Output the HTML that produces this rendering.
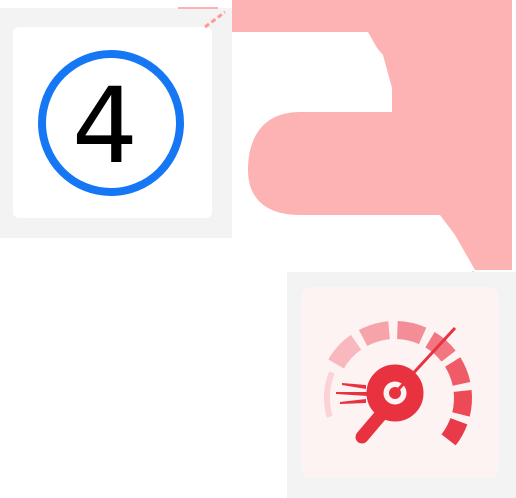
<!DOCTYPE html>
<html><head><meta charset="utf-8"><style>
html,body{margin:0;padding:0;background:#fff;width:516px;height:498px;overflow:hidden}
svg{display:block}
</style></head><body>
<svg id="s" width="516" height="498" viewBox="0 0 516 498">
  <path fill="#fdb3b3"
    d="M232,0 L512,0 L512,270 L475,270 L455,235 L440,215 L300,215 C262,215 248,195 248,170 C248,135 265,112 300,112 L392,112 L392,88 L383,55 L377,48 L368,32 L232,32 Z"/>
  <g>
    <rect x="0" y="8" width="232" height="230" fill="#f3f3f3"/>
    <rect x="13" y="27" width="199" height="191" rx="6" fill="#fff"/>
    <circle cx="111" cy="123" r="69" fill="none" stroke="#1677f5" stroke-width="8"/>
    <text x="105" y="162" text-anchor="middle" font-family="DejaVu Sans, sans-serif" font-size="104" fill="#000">4</text>
  </g>
  <path d="M178,8 L218,8" stroke="#fdb3b3" stroke-width="2"/>
  <path d="M205,27 L225,12" stroke="#f99" stroke-width="3" stroke-dasharray="5,3"/>
  <path d="M472,272 L483,284" stroke="#f99" stroke-width="3" stroke-dasharray="5,3"/>
  <g>
    <rect x="287" y="272" width="229" height="226" fill="#f3f3f3"/>
    <rect x="302" y="287" width="196" height="191" rx="8" fill="#fdf3f3"/>
  </g>
  <g id="gauge" fill="none">
    <line x1="385" y1="410" x2="362" y2="437" stroke="#e8323f" stroke-width="13" stroke-linecap="round"/>
    <circle cx="395" cy="393" r="20" stroke="#e8323f" stroke-width="17"/>
    <line x1="395" y1="393" x2="455" y2="328" stroke="#e8323f" stroke-width="3"/>
    <circle cx="395" cy="393" r="6" fill="#e8323f" stroke="none"/>
    <polygon points="342,383 366,385 366,389 342,385" fill="#e8323f"/>
    <polygon points="336,392 368,392 368,396 336,394" fill="#e8323f"/>
    <polygon points="340,402 366,399 366,403 340,404" fill="#e8323f"/>
  </g>
</svg>
<script>
var cx=395,cy=398,r=68;
var segs=[[196,158,"#fbd3d6"],[150,125,"#f9b8bd"],[118,95,"#f7a3aa"],[88,66,"#f48e96"],[59,38,"#f2767f"],[32,12,"#ef5c68"],[6,-14,"#ec4a57"],[-20,-38,"#e83a48"]];
var g=document.getElementById('gauge');
segs.forEach(function(s){
  var a1=s[0]*Math.PI/180,a2=s[1]*Math.PI/180;
  var p=document.createElementNS('http://www.w3.org/2000/svg','path');
  p.setAttribute('d','M'+(cx+r*Math.cos(a1))+','+(cy-r*Math.sin(a1))+' A'+r+','+r+' 0 0 1 '+(cx+r*Math.cos(a2))+','+(cy-r*Math.sin(a2)));
  p.setAttribute('stroke',s[2]);p.setAttribute('stroke-width', s[0]>150?'6':'18');
  
  
  g.insertBefore(p,g.firstChild);
});
</script>
</body></html>
